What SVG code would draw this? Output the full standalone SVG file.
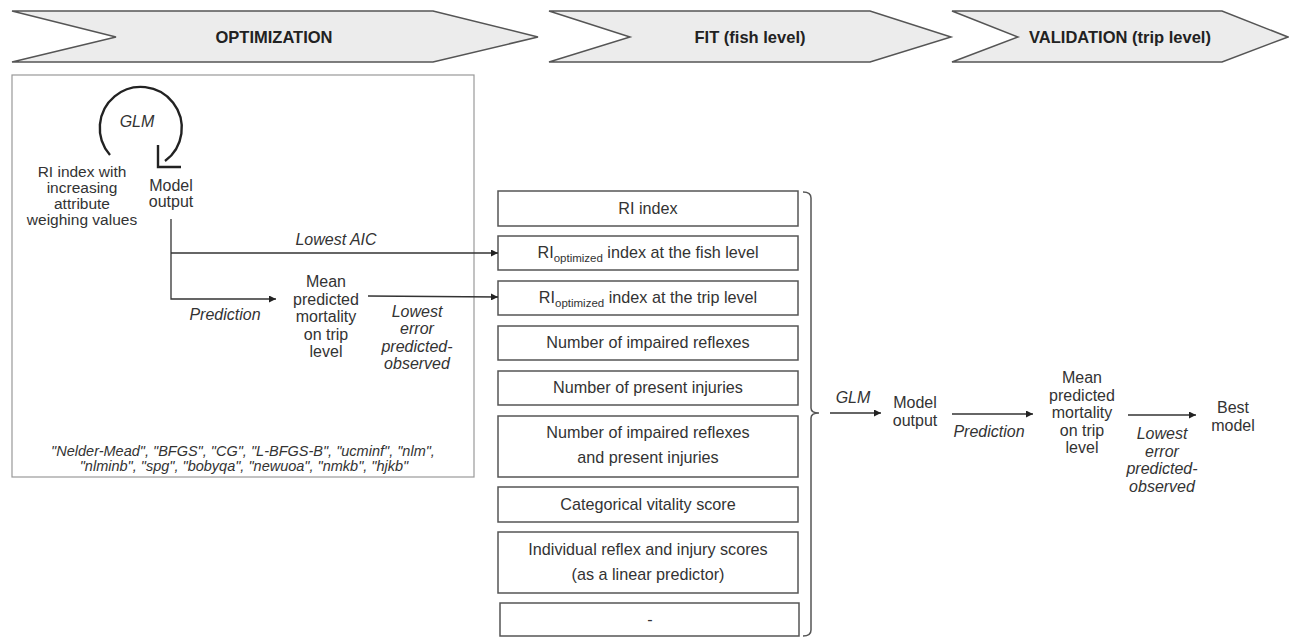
<svg xmlns="http://www.w3.org/2000/svg" width="1289" height="637" viewBox="0 0 1289 637">
<defs>
<style>
.chev{fill:#ececec;stroke:#555;stroke-width:1.5}
.hd{font-family:"Liberation Sans",Arial,sans-serif;font-weight:bold;font-size:16.5px;fill:#222;text-anchor:middle}
.t{font-family:"Liberation Sans",Arial,sans-serif;font-size:16px;fill:#333;text-anchor:middle}
.ti{font-family:"Liberation Sans",Arial,sans-serif;font-size:16px;font-style:italic;fill:#333;text-anchor:middle}
.bi{font-family:"Liberation Sans",Arial,sans-serif;font-size:14.5px;font-style:italic;fill:#333;text-anchor:middle}
.bx{fill:#fff;stroke:#555;stroke-width:1.5}
.bt{font-family:"Liberation Sans",Arial,sans-serif;font-size:16.2px;fill:#333;text-anchor:middle}
.sb{font-size:11.5px}
.ln{fill:none;stroke:#333;stroke-width:1.3}
</style>
<marker id="ah" viewBox="0 0 10 10" refX="10" refY="5" markerWidth="7" markerHeight="7" markerUnits="userSpaceOnUse" orient="auto">
<path d="M0,0 L10,5 L0,10 z" fill="#222"/>
</marker>
</defs>
<rect width="1289" height="637" fill="#fff"/>

<g id="stage-optimization">
<polygon class="chev" points="12,11 433,11 538,37 433,62 12,62 116,37"/>
<text class="hd" x="274" y="43">OPTIMIZATION</text>
</g>
<g id="stage-fit">
<polygon class="chev" points="549,11 870,11 951,37 870,62 549,62 630,37"/>
<text class="hd" x="750" y="43">FIT (fish level)</text>
</g>
<g id="stage-validation">
<polygon class="chev" points="952,11 1222,11 1288,37 1222,62 952,62 1018,37"/>
<text class="hd" x="1120" y="43">VALIDATION (trip level)</text>
</g>

<g id="optimization-box">
<rect x="12" y="75" width="462" height="402" fill="#fff" stroke="#999" stroke-width="1.2"/>
<text class="bi" x="243" y="456">"Nelder-Mead", "BFGS", "CG", "L-BFGS-B", "ucminf", "nlm",</text>
<text class="bi" x="244" y="471">"nlminb", "spg", "bobyqa", "newuoa", "nmkb", "hjkb"</text>
</g>

<g id="glm-loop">
<path d="M110,155 A41,41 0 1 1 165,161" fill="none" stroke="#222" stroke-width="2.4"/>
<polyline points="158,145 158,167 181,167" fill="none" stroke="#222" stroke-width="2.4"/>
<text class="ti" x="137" y="127">GLM</text>
</g>

<g id="ri-index-input">
<text class="t" x="82" y="177" style="font-size:15.5px">RI index with</text>
<text class="t" x="82" y="193" style="font-size:15.5px">increasing</text>
<text class="t" x="82" y="209" style="font-size:15.5px">attribute</text>
<text class="t" x="82" y="225" style="font-size:15.5px">weighing values</text>
</g>

<g id="model-output-1">
<text class="t" x="171" y="191">Model</text>
<text class="t" x="171" y="207">output</text>
</g>

<g id="mean-predicted-1">
<text class="t" x="326" y="287">Mean</text>
<text class="t" x="326" y="305">predicted</text>
<text class="t" x="326" y="322">mortality</text>
<text class="t" x="326" y="340">on trip</text>
<text class="t" x="326" y="357">level</text>
</g>

<g id="fit-options">
<rect class="bx" x="498" y="191" width="300" height="35"/>
<text class="bt" x="648" y="214">RI index</text>
<rect class="bx" x="498" y="236" width="300" height="34"/>
<text class="bt" x="648" y="258">RI<tspan class="sb" dy="4">optimized</tspan><tspan dy="-4"> index at the fish level</tspan></text>
<rect class="bx" x="498" y="281" width="300" height="34"/>
<text class="bt" x="648" y="303">RI<tspan class="sb" dy="4">optimized</tspan><tspan dy="-4"> index at the trip level</tspan></text>
<rect class="bx" x="498" y="326" width="300" height="34"/>
<text class="bt" x="648" y="348">Number of impaired reflexes</text>
<rect class="bx" x="498" y="371" width="300" height="34"/>
<text class="bt" x="648" y="393">Number of present injuries</text>
<rect class="bx" x="498" y="416" width="300" height="61"/>
<text class="bt" x="648" y="438">Number of impaired reflexes</text>
<text class="bt" x="648" y="463">and present injuries</text>
<rect class="bx" x="498" y="487" width="300" height="35"/>
<text class="bt" x="648" y="510">Categorical vitality score</text>
<rect class="bx" x="498" y="532" width="300" height="61"/>
<text class="bt" x="648" y="555">Individual reflex and injury scores</text>
<text class="bt" x="648" y="580">(as a linear predictor)</text>
<rect class="bx" x="500" y="603" width="299" height="33"/>
<text class="bt" x="650" y="625">-</text>
</g>

<g id="model-output-2">
<text class="t" x="915" y="408">Model</text>
<text class="t" x="915" y="426">output</text>
</g>

<g id="mean-predicted-2">
<text class="t" x="1082" y="383">Mean</text>
<text class="t" x="1082" y="401">predicted</text>
<text class="t" x="1082" y="418">mortality</text>
<text class="t" x="1082" y="436">on trip</text>
<text class="t" x="1082" y="453">level</text>
</g>

<g id="best-model">
<text class="t" x="1233" y="413">Best</text>
<text class="t" x="1233" y="431">model</text>
</g>

<g id="connectors">
<polyline class="ln" points="171,219 171,299 276,299" marker-end="url(#ah)"/>
<line class="ln" x1="171" y1="253" x2="498" y2="253" marker-end="url(#ah)"/>
<line class="ln" x1="368" y1="296" x2="498" y2="297" marker-end="url(#ah)"/>
<path d="M803,192 Q811,192 811,198 V408 Q811,413 819,413 Q811,413 811,418 V630 Q811,636 803,636" fill="none" stroke="#555" stroke-width="1.5"/>
<line class="ln" x1="830" y1="413" x2="881" y2="413" marker-end="url(#ah)"/>
<line class="ln" x1="952" y1="414" x2="1033" y2="414" marker-end="url(#ah)"/>
<line class="ln" x1="1128" y1="415" x2="1196" y2="415" marker-end="url(#ah)"/>
<text class="ti" x="336" y="245">Lowest AIC</text>
<text class="ti" x="225" y="320">Prediction</text>
<text class="ti" x="417" y="317">Lowest</text>
<text class="ti" x="417" y="334">error</text>
<text class="ti" x="417" y="352">predicted-</text>
<text class="ti" x="417" y="369">observed</text>
<text class="ti" x="853" y="403">GLM</text>
<text class="ti" x="989" y="437">Prediction</text>
<text class="ti" x="1162" y="439">Lowest</text>
<text class="ti" x="1162" y="457">error</text>
<text class="ti" x="1162" y="474">predicted-</text>
<text class="ti" x="1162" y="492">observed</text>
</g>
</svg>
